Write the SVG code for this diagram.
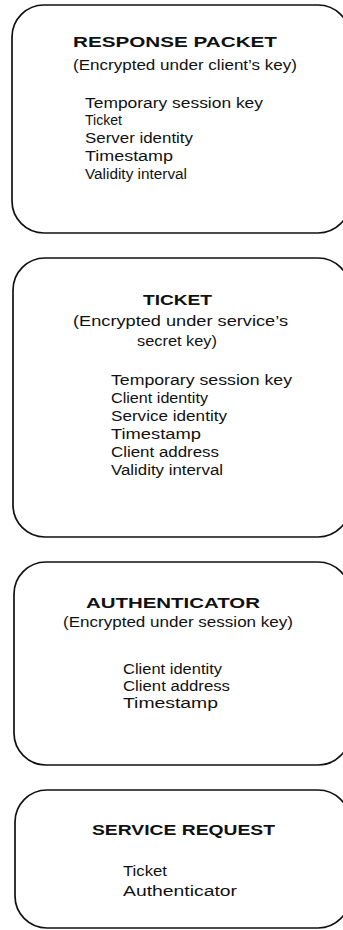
<svg xmlns="http://www.w3.org/2000/svg" width="343" height="930" viewBox="0 0 343 930">
<style>
.box{fill:#fff;stroke:#111;stroke-width:1.7}
text{font-family:"Liberation Sans",Arial,sans-serif;fill:#111}
.t{font-size:15px;font-weight:bold}
.s{font-size:14px}
.b{font-size:14px}
</style>
<rect width="343" height="930" fill="#fff"/>
<g id="response-packet">
<rect class="box" x="12" y="5" width="338" height="228" rx="32" ry="32"/>
<text class="t" x="73" y="47" textLength="204" lengthAdjust="spacingAndGlyphs">RESPONSE PACKET</text>
<text class="s" x="73" y="70" textLength="224" lengthAdjust="spacingAndGlyphs">(Encrypted under client’s key)</text>
<text class="b" x="85" y="108" textLength="178" lengthAdjust="spacingAndGlyphs">Temporary session key</text>
<text class="b" x="85" y="125" textLength="37" lengthAdjust="spacingAndGlyphs">Ticket</text>
<text class="b" x="85" y="143" textLength="108" lengthAdjust="spacingAndGlyphs">Server identity</text>
<text class="b" x="85" y="161" textLength="88" lengthAdjust="spacingAndGlyphs">Timestamp</text>
<text class="b" x="85" y="179" textLength="102" lengthAdjust="spacingAndGlyphs">Validity interval</text>
</g>
<g id="ticket">
<rect class="box" x="13" y="258" width="337" height="279" rx="32" ry="32"/>
<text class="t" x="143" y="305" textLength="69" lengthAdjust="spacingAndGlyphs">TICKET</text>
<text class="s" x="73" y="326" textLength="215" lengthAdjust="spacingAndGlyphs">(Encrypted under service’s</text>
<text class="s" x="137" y="346" textLength="80" lengthAdjust="spacingAndGlyphs">secret key)</text>
<text class="b" x="111" y="385" textLength="181" lengthAdjust="spacingAndGlyphs">Temporary session key</text>
<text class="b" x="111" y="403" textLength="97" lengthAdjust="spacingAndGlyphs">Client identity</text>
<text class="b" x="111" y="421" textLength="116" lengthAdjust="spacingAndGlyphs">Service identity</text>
<text class="b" x="111" y="439" textLength="90" lengthAdjust="spacingAndGlyphs">Timestamp</text>
<text class="b" x="111" y="457" textLength="108" lengthAdjust="spacingAndGlyphs">Client address</text>
<text class="b" x="111" y="475" textLength="112" lengthAdjust="spacingAndGlyphs">Validity interval</text>
</g>
<g id="authenticator">
<rect class="box" x="14" y="562" width="336" height="203" rx="32" ry="32"/>
<text class="t" x="86" y="608" textLength="174" lengthAdjust="spacingAndGlyphs">AUTHENTICATOR</text>
<text class="s" x="63" y="627" textLength="230" lengthAdjust="spacingAndGlyphs">(Encrypted under session key)</text>
<text class="b" x="123" y="674" textLength="99" lengthAdjust="spacingAndGlyphs">Client identity</text>
<text class="b" x="123" y="691" textLength="107" lengthAdjust="spacingAndGlyphs">Client address</text>
<text class="b" x="123" y="708" textLength="95" lengthAdjust="spacingAndGlyphs">Timestamp</text>
</g>
<g id="service-request">
<rect class="box" x="15" y="790" width="335" height="138" rx="32" ry="32"/>
<text class="t" x="92" y="835" textLength="183" lengthAdjust="spacingAndGlyphs">SERVICE REQUEST</text>
<text class="b" x="123" y="876" textLength="44" lengthAdjust="spacingAndGlyphs">Ticket</text>
<text class="b" x="123" y="896" textLength="114" lengthAdjust="spacingAndGlyphs">Authenticator</text>
</g>
<g id="connectors"/>
</svg>
